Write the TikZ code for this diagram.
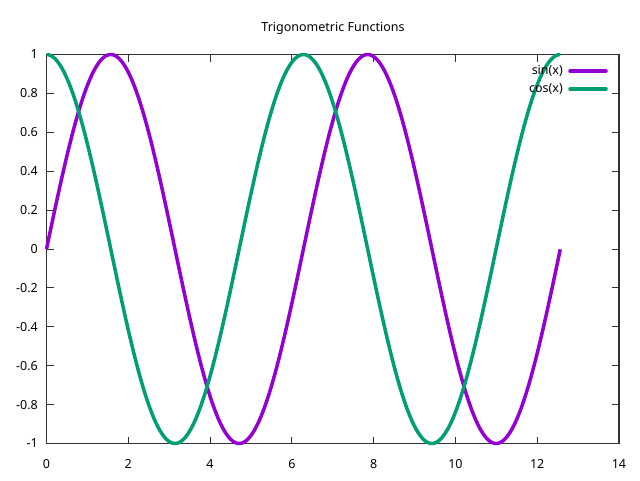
\documentclass[tikz,border=0pt]{standalone}
\usepackage{fontspec}
\setmainfont{Noto Sans}
\definecolor{cs}{HTML}{9400D3}
\definecolor{cc}{HTML}{009E73}
\begin{document}
\begin{tikzpicture}[x=1pt,y=-1pt,
  ax/.style={line width=1.2pt,draw=black!80},
  lab/.style={font=\fontsize{12.5}{14}\selectfont,inner sep=0pt},
  curve/.style={line width=3.5pt,line join=round}]
\useasboundingbox (0,0) rectangle (640,480);
\fill[white] (0,0) rectangle (640,480);
\node[lab] (title) at (333,28) {Trigonometric Functions};
\foreach \v [count=\i from 0] in {1,0.8,0.6,0.4,0.2,0,-0.2,-0.4,-0.6,-0.8,-1}{
  \pgfmathsetmacro\yy{249-194.5*\v}
  \node[lab,anchor=east] (yl\i) at (38,\yy) {\v};
  \draw[ax,line width=1pt] (46.5,\yy) -- ++(7,0) (619,\yy) -- ++(-7,0);
}
\foreach \v in {0,2,...,14}{
  \pgfmathsetmacro\xx{46.5+40.89*\v}
  \node[lab] (xl\v) at (\xx,464) {\v};
  \draw[ax,line width=1pt] (\xx,443.5) -- ++(0,-7) (\xx,54.5) -- ++(0,7);
}
\draw[ax] (46.5,54.5) rectangle (619,443.5);
\draw[curve,cs] plot[domain=0:12.566,samples=300,smooth] ({46.5+40.89*\x},{249-194.5*sin(\x r)});
\draw[curve,cc] plot[domain=0:12.566,samples=300,smooth] ({46.5+40.89*\x},{249-194.5*cos(\x r)});
\node[lab,anchor=east] (ls) at (563,71) {sin(x)};
\node[lab,anchor=east] (lc) at (563,89) {cos(x)};
\coordinate (s1) at (570,71); \coordinate (s2) at (606,71);
\coordinate (c1) at (570,89); \coordinate (c2) at (606,89);
\draw[curve,cs,line cap=round] (s1) -- (s2);
\draw[curve,cc,line cap=round] (c1) -- (c2);
\end{tikzpicture}
\end{document}
